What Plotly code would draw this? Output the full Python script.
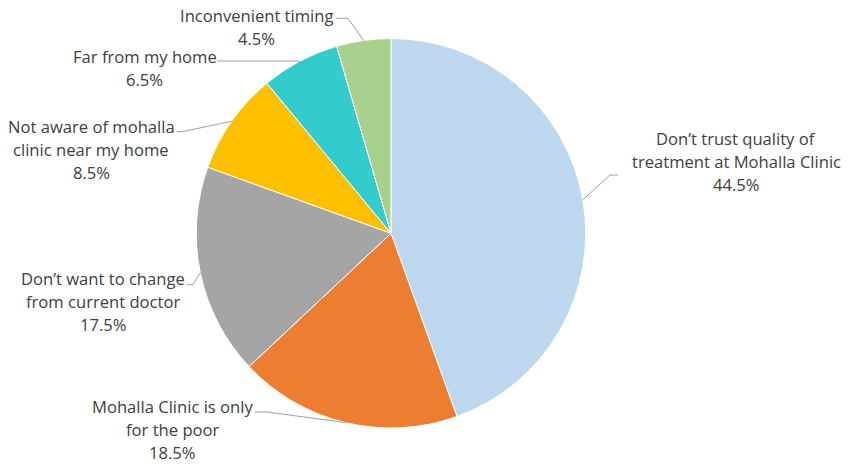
import math
import plotly.graph_objects as go

# ---- data ----
categories = [
    "Don\u2019t trust quality of treatment at Mohalla Clinic",
    "Mohalla Clinic is only for the poor",
    "Don\u2019t want to change from current doctor",
    "Not aware of mohalla clinic near my home",
    "Far from my home",
    "Inconvenient timing",
]
values = [44.5, 18.5, 17.5, 8.5, 6.5, 4.5]
label_lines = [
    ["Don\u2019t trust quality of", "treatment at Mohalla Clinic"],
    ["Mohalla Clinic is only", "for the poor"],
    ["Don\u2019t want to change", "from current doctor"],
    ["Not aware of mohalla", "clinic near my home"],
    ["Far from my home"],
    ["Inconvenient timing"],
]
colors = ["#BDD7EE", "#ED7D31", "#A5A5A5", "#FFC000", "#33CCCC", "#A9D18E"]

# ---- layout (pixels) ----
W, H = 851, 466
dom_x = (196, 586)
dom_y = (38.5, 428)  # from top
# label block centre x, first line centre y
label_pos = [(736, 138.5), (172.5, 406.5), (103, 278), (91, 126.7), (144.5, 56.5), (256.5, 15.5)]
# leader start (near text) and elbow
leader_pts = [
    ((618, 175), (610, 175)),
    ((255, 412), (267, 412)),
    ((187, 284.5), (193, 284.5)),
    ((177, 131.5), (183, 131.5)),
    ((217, 61), (285, 61)),
    ((336, 18.3), (348, 18.3)),
]
LINE_H = 23
TEXT_COLOR = "#404040"
LEAD_COLOR = "#A0A0A0"

def px(x):
    return x / W

def py(y):
    return 1 - y / H

fig = go.Figure(go.Pie(
    labels=categories,
    values=values,
    sort=False,
    direction="clockwise",
    rotation=0,
    marker=dict(colors=colors, line=dict(color="white", width=1)),
    textinfo="none",
    hoverinfo="skip",
    domain=dict(x=[px(dom_x[0]), px(dom_x[1])], y=[py(dom_y[1]), py(dom_y[0])]),
    showlegend=False,
))

cx = (dom_x[0] + dom_x[1]) / 2
cy = (dom_y[0] + dom_y[1]) / 2
R = min(dom_x[1] - dom_x[0], dom_y[1] - dom_y[0]) / 2
total = sum(values)

annotations = []
shapes = []
cum = 0.0
for i, v in enumerate(values):
    mid = (cum + v / 2) / total * 2 * math.pi
    cum += v
    ex = cx + R * math.sin(mid)
    ey = cy - R * math.cos(mid)
    lines = label_lines[i] + [f"{v:.1f}%"]
    lx, ly = label_pos[i]
    for k, t in enumerate(lines):
        annotations.append(dict(
            x=px(lx), y=py(ly + k * LINE_H), xref="paper", yref="paper",
            text=t, showarrow=False, xanchor="center", yanchor="middle",
            font=dict(family="Open Sans", size=16.6, color=TEXT_COLOR),
        ))
    (sx, sy), (bx, by) = leader_pts[i]
    shapes.append(dict(
        type="path", xref="paper", yref="paper",
        path=f"M {px(sx)} {py(sy)} L {px(bx)} {py(by)} L {px(ex)} {py(ey)}",
        line=dict(color=LEAD_COLOR, width=1),
    ))

fig.update_layout(
    width=W, height=H,
    margin=dict(l=0, r=0, t=0, b=0),
    paper_bgcolor="white", plot_bgcolor="white",
    annotations=annotations,
    shapes=shapes,
)

fig.write_html(
    "out.html",
    config={"displayModeBar": False},
    post_script="document.body.style.margin='0';document.body.style.overflow='hidden';",
)
